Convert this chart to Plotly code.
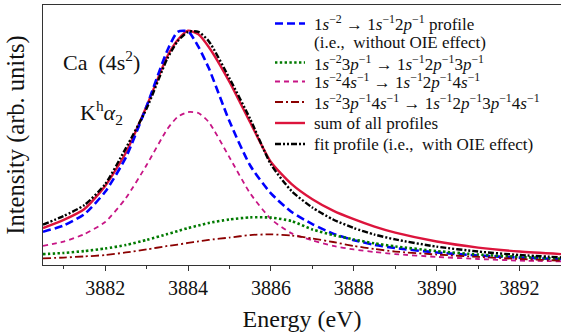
import plotly.graph_objects as go

energy = [3880.5, 3881, 3881.5, 3882, 3882.5, 3883, 3883.5, 3883.75, 3884, 3884.25,
          3884.5, 3885, 3885.5, 3886, 3886.5, 3887, 3887.5, 3888, 3888.5, 3889,
          3890, 3891, 3892, 3893]

blue_2p = [0.130, 0.157, 0.206, 0.302, 0.45, 0.67, 0.91, 0.99, 0.992, 0.926,
           0.834, 0.605, 0.415, 0.295, 0.215, 0.163, 0.122, 0.094, 0.074, 0.060,
           0.041, 0.028, 0.019, 0.012]
green_3p = [0.034, 0.039, 0.047, 0.058, 0.073, 0.095, 0.120, 0.133, 0.146, 0.157,
            0.168, 0.183, 0.192, 0.191, 0.176, 0.140, 0.116, 0.097, 0.080, 0.067,
            0.047, 0.032, 0.022, 0.014]
magenta_4s = [0.069, 0.088, 0.120, 0.172, 0.275, 0.417, 0.572, 0.624, 0.645, 0.641,
              0.602, 0.45, 0.295, 0.185, 0.123, 0.093, 0.069, 0.054, 0.043, 0.034,
              0.022, 0.013, 0.006, 0.003]
darkred_3p4s = [0.016, 0.019, 0.024, 0.030, 0.041, 0.054, 0.069, 0.075, 0.082, 0.089,
                0.095, 0.105, 0.116, 0.119, 0.114, 0.101, 0.086, 0.069, 0.056, 0.045,
                0.032, 0.022, 0.013, 0.006]
red_sum = [0.146, 0.181, 0.228, 0.327, 0.47, 0.67, 0.885, 0.955, 0.995, 0.98,
           0.925, 0.775, 0.60, 0.43, 0.335, 0.27, 0.221, 0.184, 0.152, 0.126,
           0.088, 0.062, 0.045, 0.034]
black_fit = [0.161, 0.198, 0.245, 0.335, 0.49, 0.66, 0.875, 0.95, 0.99, 0.99,
             0.95, 0.79, 0.615, 0.42, 0.305, 0.234, 0.183, 0.146, 0.118, 0.097,
             0.066, 0.045, 0.030, 0.020]

names = [
    "1<i>s</i><sup>−2</sup> → 1<i>s</i><sup>−1</sup>2<i>p</i><sup>−1</sup> profile",
    "1<i>s</i><sup>−2</sup>3<i>p</i><sup>−1</sup> → 1<i>s</i><sup>−1</sup>2<i>p</i><sup>−1</sup>3<i>p</i><sup>−1</sup>",
    "1<i>s</i><sup>−2</sup>4<i>s</i><sup>−1</sup> → 1<i>s</i><sup>−1</sup>2<i>p</i><sup>−1</sup>4<i>s</i><sup>−1</sup>",
    "1<i>s</i><sup>−2</sup>3<i>p</i><sup>−1</sup>4<i>s</i><sup>−1</sup> → 1<i>s</i><sup>−1</sup>2<i>p</i><sup>−1</sup>3<i>p</i><sup>−1</sup>4<i>s</i><sup>−1</sup>",
    "sum of all profiles",
    "fit profile (i.e.,  with OIE effect)",
]
name_extra = "(i.e.,  without OIE effect)"

series = [blue_2p, green_3p, magenta_4s, darkred_3p4s, red_sum, black_fit]
colors = ["#0000ff", "#007a00", "#c71585", "#8b0000", "#dc143c", "#000000"]
widths = [2.6, 2.6, 1.8, 1.8, 2.4, 2.4]
dashes = ["8px,4px", "2.4px,2.4px", "5px,4px", "8px,3px,2px,3px", "solid", "6px,2px,2px,2px,2px,2px"]
draw_order = [4, 0, 2, 1, 3, 5]

W, H = 561, 333
ML, MR, MT, MB = 43, 0, 5, 68
pw, ph = W - ML - MR, H - MT - MB


def px_x(px):
    return (px - ML) / pw


def px_y(py):
    return (H - MB - py) / ph


fig = go.Figure()
for i in draw_order:
    fig.add_trace(go.Scatter(
        x=energy, y=series[i], mode="lines", name=names[i], showlegend=False,
        line=dict(color=colors[i], width=widths[i], dash=dashes[i], shape="spline", smoothing=0.6),
    ))

font_family = "Liberation Serif"
txt = "#111"
fig.update_layout(
    width=W, height=H,
    margin=dict(l=ML, r=MR, t=MT, b=MB, autoexpand=False),
    paper_bgcolor="white", plot_bgcolor="white",
    font=dict(family=font_family, color=txt, size=16),
    showlegend=False,
    xaxis=dict(range=[3880.5, 3893], showgrid=False, zeroline=False, automargin=False,
               showline=True, linecolor="#333", linewidth=1.3, mirror=True,
               ticks="outside", ticklen=5, tickwidth=1, tickcolor="#333",
               dtick=2, tick0=3882, tickfont=dict(size=20, family=font_family, color=txt),
               minor=dict(ticks="outside", ticklen=3, dtick=1, tickcolor="#333"),
               title=dict(text="Energy (eV)", font=dict(size=24, family=font_family, color=txt),
                          standoff=12)),
    yaxis=dict(range=[-0.0129, 1.1054], showgrid=False, zeroline=False, automargin=False,
               showline=True, linecolor="#333", linewidth=1.3, mirror=False,
               showticklabels=False, ticks="",
               title=dict(text="Intensity (arb. units)", font=dict(size=24.5, family=font_family, color=txt),
                          standoff=10)),
)

# manual legend (line samples + labels)
row_y = [23.5, 62.5, 81.5, 102, 123, 144]
for i in range(6):
    fig.add_shape(type="line", xref="paper", yref="paper",
                  x0=px_x(275), x1=px_x(305), y0=px_y(row_y[i]), y1=px_y(row_y[i]),
                  line=dict(color=colors[i], width=widths[i], dash=dashes[i]))
    fig.add_annotation(text=names[i], xref="paper", yref="paper", x=px_x(312), y=px_y(row_y[i]),
                       xanchor="left", yanchor="middle", showarrow=False,
                       font=dict(size=17, family=font_family, color=txt))
fig.add_annotation(text=name_extra, xref="paper", yref="paper", x=px_x(312), y=px_y(42.5),
                   xanchor="left", yanchor="middle", showarrow=False,
                   font=dict(size=17, family=font_family, color=txt))

fig.add_annotation(text="Ca  (4s<sup>2</sup>)", xref="paper", yref="paper", x=px_x(101), y=px_y(61),
                   xanchor="center", yanchor="middle",
                   showarrow=False, font=dict(size=22, family=font_family, color=txt))
fig.add_annotation(text="K<sup>h</sup><i>α</i><sub>2</sub>", xref="paper", yref="paper", x=px_x(101), y=px_y(113),
                   xanchor="center", yanchor="middle",
                   showarrow=False, font=dict(size=22, family=font_family, color=txt))

fig.write_html("out.html", config={"displayModeBar": False},
               post_script="document.body.style.margin='0px';")
